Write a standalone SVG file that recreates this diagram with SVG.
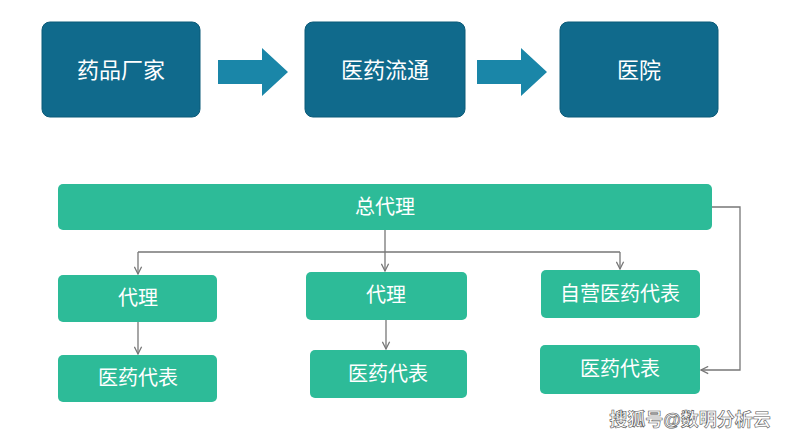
<svg xmlns="http://www.w3.org/2000/svg" width="800" height="440" viewBox="0 0 800 440">
<defs>
<style>
.top{fill:#106a8c;stroke:#0b5a78;stroke-width:1}
.g{fill:#2dbb98}
.t{font-family:"Liberation Sans","Noto Sans CJK SC",sans-serif;fill:#fff;text-anchor:middle;dominant-baseline:central}
.big{font-size:22px}
.sm{font-size:20px}
.ln{stroke:#777;stroke-width:1.3;fill:none;marker-end:url(#ah)}
.blk{fill:#1a86a8}
</style>
<marker id="ah" viewBox="0 0 10 10" refX="9" refY="5" markerWidth="9" markerHeight="9" orient="auto" markerUnits="userSpaceOnUse"><path d="M1,1 L9,5 L1,9" fill="none" stroke="#777" stroke-width="1.4"/></marker>
</defs>
<rect width="800" height="440" fill="#fff"/>
<g id="n1"><rect class="top" x="42" y="22" width="158" height="95" rx="8"/><text class="t big" x="121" y="70">药品厂家</text></g>
<g id="n2"><rect class="top" x="305" y="22" width="160" height="95" rx="8"/><text class="t big" x="385" y="70">医药流通</text></g>
<g id="n3"><rect class="top" x="560" y="22" width="158" height="95" rx="8"/><text class="t big" x="639" y="70">医院</text></g>
<g id="n4"><rect class="g" x="58" y="184" width="654" height="46" rx="5"/><text class="t sm" x="385" y="207">总代理</text></g>
<g id="n5"><rect class="g" x="58" y="275" width="159" height="47" rx="5"/><text class="t sm" x="138" y="298">代理</text></g>
<g id="n6"><rect class="g" x="306" y="272" width="161" height="48" rx="5"/><text class="t sm" x="386" y="295">代理</text></g>
<g id="n7"><rect class="g" x="541" y="270" width="159" height="48" rx="5"/><text class="t sm" x="620" y="294">自营医药代表</text></g>
<g id="n8"><rect class="g" x="58" y="355" width="159" height="47" rx="5"/><text class="t sm" x="138" y="378">医药代表</text></g>
<g id="n9"><rect class="g" x="310" y="350" width="157" height="48" rx="5"/><text class="t sm" x="388" y="374">医药代表</text></g>
<g id="n10"><rect class="g" x="540" y="345" width="160" height="49" rx="5"/><text class="t sm" x="620" y="369">医药代表</text></g>
<g id="connectors">
<path class="blk" d="M218,60 H262 V48 L288,72 L262,96 V84 H218 Z"/>
<path class="blk" d="M477,60 H521 V48 L547,72 L521,96 V84 H477 Z"/>
<path d="M385,230 V252 M138,252 H620" stroke="#777" stroke-width="1.3" fill="none"/>
<path class="ln" d="M138,252 V274"/>
<path class="ln" d="M385,252 V271"/>
<path class="ln" d="M620,252 V269"/>
<path class="ln" d="M138,322 V354"/>
<path class="ln" d="M386,320 V349"/>
<path class="ln" d="M712,207 H740 V370 H701"/>
</g>
<text x="690" y="420" font-family="'Liberation Sans','Noto Sans CJK SC',sans-serif" font-size="18" font-weight="bold" fill="#fff" stroke="#555" stroke-width="0.6" text-anchor="middle" dominant-baseline="central">搜狐号@数明分析云</text>
</svg>
